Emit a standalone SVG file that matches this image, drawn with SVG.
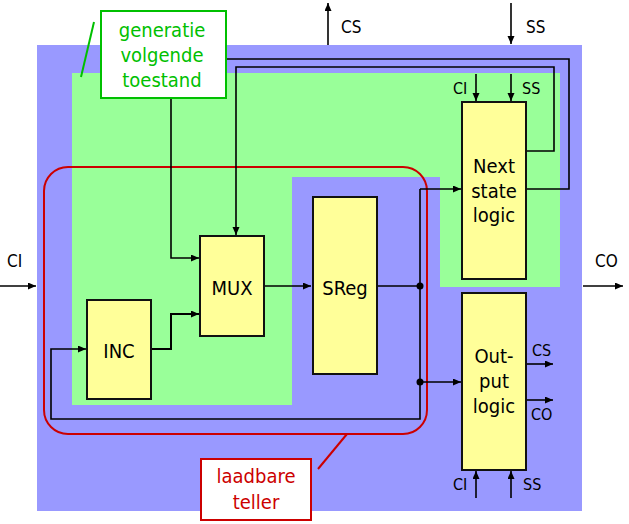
<svg xmlns="http://www.w3.org/2000/svg" width="629" height="524" viewBox="0 0 629 524">
<style>
text{font-family:"DejaVu Sans Condensed","DejaVu Sans",sans-serif;font-stretch:condensed;fill:#000}
.blk{fill:#ffff99;stroke:#111;stroke-width:2}
.bt{font-size:20px;text-anchor:middle}
.lbl{font-size:16px}
.olbl{font-size:17px}
.w{fill:none;stroke:#000;stroke-width:1.6}
.gt{font-size:20px;text-anchor:middle;fill:#00c000}
.rt{font-size:20px;text-anchor:middle;fill:#cc0000}
</style>
<defs>
<marker id="ah" markerUnits="userSpaceOnUse" markerWidth="9" markerHeight="8" refX="8" refY="3.5" orient="auto">
<path d="M0,0 L8,3.5 L0,7 z" fill="#000"/>
</marker>
</defs>
<g id="background">
<rect x="37" y="45" width="545" height="466" fill="#9999ff"/>
<polygon points="72,73 560,73 560,287 440,287 440,177 292,177 292,405 72,405" fill="#99ff99"/>
<rect x="44" y="167" width="383" height="267" rx="24" ry="24" fill="none" stroke="#cc0000" stroke-width="2"/>
</g>
<g id="connectors">
<path class="w" d="M526,189 H569 V59 H171 V258 H199" marker-end="url(#ah)"/>
<path class="w" d="M526,151 H554 V67 H236 V235" marker-end="url(#ah)"/>
<path class="w" style="stroke-width:2" d="M151,349 H171 V314 H199" marker-end="url(#ah)"/>
<path class="w" d="M264,286 H311" marker-end="url(#ah)"/>
<path class="w" d="M377,286 H420"/>
<path class="w" d="M420,189 V419 H51 V349 H86" marker-end="url(#ah)"/>
<path class="w" d="M420,189 H461" marker-end="url(#ah)"/>
<path class="w" d="M420,382 H461" marker-end="url(#ah)"/>
<path class="w" d="M526,364 H553" marker-end="url(#ah)"/>
<path class="w" d="M526,400 H553" marker-end="url(#ah)"/>
<path class="w" d="M476,74 V101" marker-end="url(#ah)"/>
<path class="w" d="M511,74 V101" marker-end="url(#ah)"/>
<path class="w" d="M476,498 V471" marker-end="url(#ah)"/>
<path class="w" d="M511,498 V471" marker-end="url(#ah)"/>
<path class="w" d="M0,286 H36" marker-end="url(#ah)"/>
<path class="w" d="M583,286 H623" marker-end="url(#ah)"/>
<path class="w" d="M328,45 V3" marker-end="url(#ah)"/>
<path class="w" d="M511,3 V44" marker-end="url(#ah)"/>
<circle cx="420" cy="286" r="3.5" fill="#000"/>
<circle cx="420" cy="382" r="3.5" fill="#000"/>
</g>
<g id="inc">
<rect class="blk" x="87" y="300" width="64" height="99"/>
<text class="bt" x="119" y="358">INC</text>
</g>
<g id="mux">
<rect class="blk" x="200" y="236" width="64" height="100"/>
<text class="bt" x="232" y="295">MUX</text>
</g>
<g id="sreg">
<rect class="blk" x="313" y="197" width="64" height="177"/>
<text class="bt" x="345" y="295">SReg</text>
</g>
<g id="nextstate">
<rect class="blk" x="462" y="102" width="64" height="177"/>
<text class="bt" x="494" y="173">Next</text>
<text class="bt" x="494" y="197.5">state</text>
<text class="bt" x="494" y="222">logic</text>
</g>
<g id="output">
<rect class="blk" x="462" y="293" width="64" height="177"/>
<text class="bt" x="494" y="363">Out-</text>
<text class="bt" x="494" y="388">put</text>
<text class="bt" x="494" y="413">logic</text>
</g>
<g id="labels">
<text class="olbl" x="341" y="33">CS</text>
<text class="olbl" x="526" y="33">SS</text>
<text class="lbl" x="453" y="94">CI</text>
<text class="lbl" x="522" y="94">SS</text>
<text class="olbl" x="7" y="267">CI</text>
<text class="olbl" x="595" y="267">CO</text>
<text class="lbl" x="532" y="356">CS</text>
<text class="lbl" x="531" y="420">CO</text>
<text class="lbl" x="453" y="490">CI</text>
<text class="lbl" x="523" y="490">SS</text>
</g>
<g id="callout-generatie">
<line x1="94" y1="22" x2="81" y2="77" stroke="#00c000" stroke-width="2"/>
<rect x="101" y="11" width="125" height="87" fill="#fff" stroke="#00c000" stroke-width="2"/>
<text class="gt" x="162" y="36.5">generatie</text>
<text class="gt" x="162" y="61.5">volgende</text>
<text class="gt" x="162" y="87">toestand</text>
</g>
<g id="callout-teller">
<line x1="318" y1="469" x2="347" y2="434" stroke="#cc0000" stroke-width="2"/>
<rect x="201" y="459" width="110" height="61" fill="#fff" stroke="#cc0000" stroke-width="2"/>
<text class="rt" x="256" y="483">laadbare</text>
<text class="rt" x="256" y="509">teller</text>
</g>
</svg>
